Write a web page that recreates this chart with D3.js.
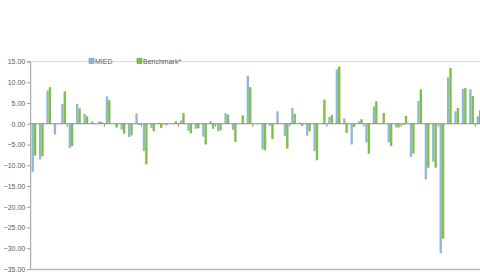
<!DOCTYPE html>
<html>
<head>
<meta charset="utf-8">
<script src="https://cdn.jsdelivr.net/npm/d3@7"></script>
<style>
  html, body { margin: 0; padding: 0; background: #ffffff; }
  svg { display: block; }
</style>
</head>
<body>
<svg id="chart" width="480" height="279"></svg>
<script>
// ---- data ----
const seriesNames = ["MIED", "Benchmark*"];
const categories = d3.range(1, 62).map(String);
const miedValues = [
  -11.6, -8.6, 8.0, -2.6, 4.8, -5.8, 4.8, 2.4, 0.6, 0.6,
  6.6, 0.2, -1.4, -3.2, 2.5, -6.6, -1.0, 0.2, -0.4, 0.1,
  0.8, -1.7, -1.2, -3.1, 0.6, -1.8, 2.6, -1.5, 0.0, 11.6,
  0.1, -6.2, -0.5, 3.0, -2.9, 3.8, 0.3, -2.9, -6.6, 0.0,
  1.6, 13.1, 1.3, -5.0, 0.6, -4.5, 4.2, 0.2, -4.5, -0.9,
  -0.3, -8.0, 5.5, -13.4, -9.1, -31.2, 11.2, 3.0, 8.4, 8.3,
  1.8
];
const benchValues = [
  -7.7, -7.8, 8.8, 0.0, 7.8, -5.4, 3.7, 1.8, 0.1, 0.4,
  5.7, -0.9, -2.4, -2.8, -0.3, -9.8, -1.8, -1.0, 0.0, 0.6,
  2.6, -2.3, -1.1, -5.0, -1.2, -1.6, 2.2, -4.4, 2.0, 8.8,
  -0.1, -6.4, -3.7, 0.0, -6.0, 2.4, -0.5, -1.8, -8.8, 5.8,
  2.1, 13.8, -2.2, -0.8, 1.1, -7.2, 5.4, 2.6, -5.4, -0.9,
  1.9, -7.2, 8.3, -10.6, -10.6, -27.7, 13.4, 3.8, 8.6, 6.7,
  3.2
];
const yTicks = [15, 10, 5, 0, -5, -10, -15, -20, -25, -30, -35];
const colors = ["#93b5dc", "#7dc242"];

// ---- layout ----
const svg = d3.select("#chart");
const plotLeft = 30.2, plotRight = 482.7, plotTop = 61.5, plotBottom = 269;

const y = d3.scaleLinear().domain([-35, 15]).range([plotBottom, plotTop]);
const x = d3.scaleBand().domain(categories).range([plotLeft, plotRight]).paddingInner(0).paddingOuter(0);
const xInner = d3.scaleBand().domain(seriesNames).range([x.bandwidth() * 0.18, x.bandwidth() * 0.82]).padding(0);

const labelColor = "#595959";
const fontFam = "'Liberation Sans', Arial, sans-serif";

// top gridline (15)
svg.append("line")
  .attr("x1", plotLeft).attr("x2", 480)
  .attr("y1", y(15)).attr("y2", y(15))
  .attr("stroke", "#dcdcdc").attr("stroke-width", 1);

// y axis
const yAxis = d3.axisLeft(y).tickValues(yTicks).tickSize(3).tickPadding(2)
  .tickFormat(d => d3.format(".2f")(d));
const gy = svg.append("g").attr("transform", `translate(${plotLeft},0)`).call(yAxis);
gy.select(".domain").attr("stroke", "#9a9a9a");
gy.selectAll(".tick line").attr("stroke", "#9a9a9a");
gy.selectAll(".tick text")
  .attr("fill", labelColor)
  .style("font-family", fontFam)
  .style("font-size", "7px");

// bars
const data = categories.map((c, i) => ({ cat: c, vals: [miedValues[i], benchValues[i]] }));
const groups = svg.append("g").selectAll("g")
  .data(data).join("g")
  .attr("transform", d => `translate(${x(d.cat)},0)`);

groups.selectAll("rect")
  .data(d => d.vals.map((v, k) => ({ key: seriesNames[k], v, k })))
  .join("rect")
  .attr("x", d => xInner(d.key))
  .attr("width", xInner.bandwidth())
  .attr("y", d => y(Math.max(0, d.v)))
  .attr("height", d => Math.abs(y(d.v) - y(0)))
  .attr("fill", d => colors[d.k]);

// zero (category) axis with ticks every 5 categories
const tickCats = categories.filter((c, i) => i % 5 === 0 && i > 0);
svg.append("line")
  .attr("x1", plotLeft).attr("x2", 480)
  .attr("y1", y(0)).attr("y2", y(0))
  .attr("stroke", "#8c8c8c").attr("stroke-width", 1);
svg.append("g").selectAll("line")
  .data(tickCats).join("line")
  .attr("x1", d => x(d)).attr("x2", d => x(d))
  .attr("y1", y(0)).attr("y2", y(0) + 3)
  .attr("stroke", "#8c8c8c");

// bottom line
svg.append("line")
  .attr("x1", plotLeft).attr("x2", 480)
  .attr("y1", y(-35) + 0.5).attr("y2", y(-35) + 0.5)
  .attr("stroke", "#b5b5b5").attr("stroke-width", 1.5);

// legend
const legend = svg.append("g");
const legendItems = [{ name: seriesNames[0], x: 89 }, { name: seriesNames[1], x: 137 }];
legendItems.forEach((it, k) => {
  legend.append("rect")
    .attr("x", it.x).attr("y", 58.5)
    .attr("width", 5).attr("height", 5)
    .attr("fill", colors[k]).attr("stroke", k === 0 ? "#6d8fb8" : "#5f9a2e").attr("stroke-width", 0.6);
  legend.append("text")
    .attr("x", it.x + 6).attr("y", 63.5)
    .attr("fill", labelColor)
    .style("font-family", fontFam)
    .style("font-size", "7px")
    .text(it.name);
});
</script>
</body>
</html>
